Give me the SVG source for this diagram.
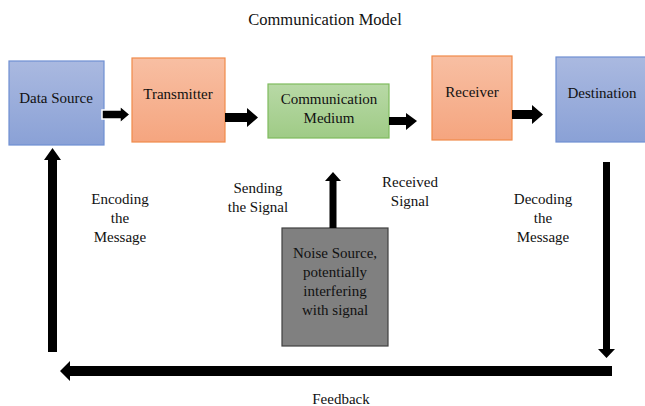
<svg xmlns="http://www.w3.org/2000/svg" width="645" height="406" viewBox="0 0 645 406">
<defs>
<linearGradient id="gBlue" x1="0" y1="0" x2="0" y2="1"><stop offset="0" stop-color="#aab9e0"/><stop offset="1" stop-color="#8aa1d6"/></linearGradient>
<linearGradient id="gOrange" x1="0" y1="0" x2="0" y2="1"><stop offset="0" stop-color="#f8bfa3"/><stop offset="1" stop-color="#f5a57f"/></linearGradient>
<linearGradient id="gGreen" x1="0" y1="0" x2="0" y2="1"><stop offset="0" stop-color="#b8d9a6"/><stop offset="1" stop-color="#9fcb86"/></linearGradient>
</defs>
<style>
text{font-family:"Liberation Serif","Times New Roman",serif;font-size:15px;fill:#111;text-anchor:middle}
.title{font-size:16.5px}
.blue{fill:url(#gBlue);stroke:#6f8fd2;stroke-width:1.2}
.orange{fill:url(#gOrange);stroke:#f08a4a;stroke-width:1.2}
.green{fill:url(#gGreen);stroke:#7fbb5e;stroke-width:1.2}
.gray{fill:#808080;stroke:#404040;stroke-width:1.2}
.arr{fill:#000}
</style>
<text class="title" x="325" y="25">Communication Model</text>
<g id="data-source"><rect class="blue" x="9" y="61" width="95" height="84"/><text x="56" y="103">Data Source</text></g>
<g id="transmitter"><rect class="orange" x="132" y="58" width="93" height="84"/><text x="178" y="99">Transmitter</text></g>
<g id="medium"><rect class="green" x="268" y="84" width="121" height="54"/><text x="329" y="104">Communication</text><text x="329" y="123">Medium</text></g>
<g id="receiver"><rect class="orange" x="432" y="56" width="80" height="84"/><text x="472" y="97">Receiver</text></g>
<g id="destination"><rect class="blue" x="556" y="57" width="90" height="85"/><text x="602" y="98">Destination</text></g>
<g id="noise"><rect class="gray" x="282" y="228" width="106" height="118"/><text x="335" y="258">Noise Source,</text><text x="335" y="277">potentially</text><text x="335" y="296">interfering</text><text x="335" y="315">with signal</text></g>
<g id="connectors">
<polygon class="arr" stroke="#fff" stroke-width="1.5" points="102,110 120,110 120,106 130,114.5 120,123 120,119 102,119"/>
<polygon class="arr" points="225,113 247,113 247,108 258,117.5 247,127 247,122 225,122"/>
<polygon class="arr" points="389,117 406,117 406,113 417,121 406,130 406,125 389,125"/>
<polygon class="arr" points="512,110 532,110 532,105 543,114.5 532,124 532,119 512,119"/>
<polygon class="arr" points="329.5,228 329.5,181 325,181 333,172 341,181 336.5,181 336.5,228"/>
<polygon class="arr" points="48,352 48,160 44,160 52.5,148 61,160 57,160 57,352"/>
<polygon class="arr" points="603,162 610,162 610,349 615,349 606.5,358 598,349 603,349"/>
<polygon class="arr" points="612,366 70,366 70,361 60,371 70,381 70,376 612,376"/>
</g>
<text x="120" y="204">Encoding</text><text x="120" y="223">the</text><text x="120" y="242">Message</text>
<text x="258" y="193">Sending</text><text x="258" y="212">the Signal</text>
<text x="410" y="187">Received</text><text x="410" y="206">Signal</text>
<text x="543" y="204">Decoding</text><text x="543" y="223">the</text><text x="543" y="242">Message</text>
<text x="341" y="404">Feedback</text>
</svg>
